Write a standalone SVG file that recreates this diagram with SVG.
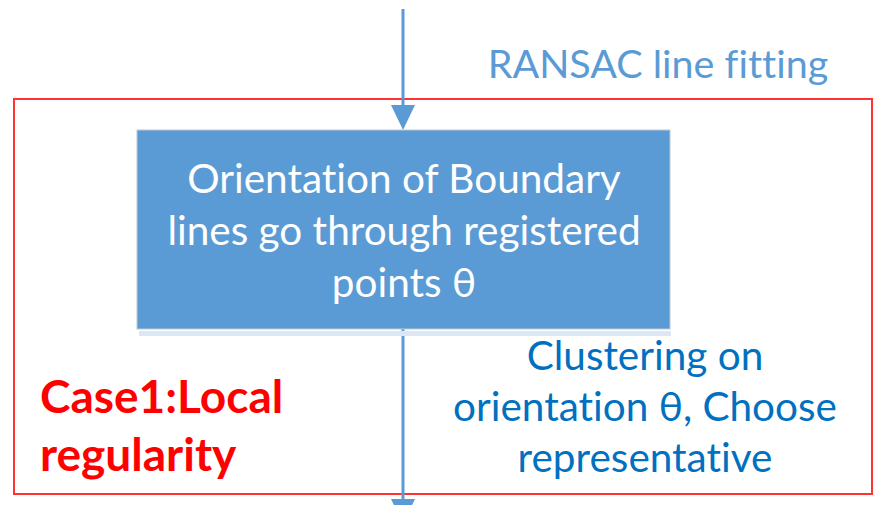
<svg xmlns="http://www.w3.org/2000/svg" width="877" height="505" viewBox="0 0 877 505">
<style>
.c{stroke:#5b9bd5;stroke-width:3;fill:none}
.t{font-family:Lato,"Open Sans","Liberation Sans",sans-serif;font-variant-ligatures:none}
.w{fill:#ffffff;font-size:40.5px}
.b{fill:#0070c0;font-size:40.5px}
.r{fill:#ff0000;font-size:46px;font-weight:bold}
</style>
<rect id="region" x="14" y="99" width="858" height="395" fill="none" stroke="#ff3333" stroke-width="2"/>
<g id="connectors">
<line class="c" x1="403" y1="9" x2="403" y2="108"/>
<path d="M391,105 L415,105 L403,130 Z" fill="#5b9bd5"/>
<line class="c" x1="403" y1="329" x2="403" y2="500"/>
<path d="M391,499 L415,499 L403,524 Z" fill="#5b9bd5"/>
</g>
<g id="node-orientation">
<rect x="139" y="331" width="532" height="5" fill="#dbe7f5"/>
<rect x="137" y="130" width="533" height="199" fill="#5b9bd5" stroke="#c0c8d0" stroke-width="1"/>
<text class="t w" x="404" y="193" text-anchor="middle">Orientation of Boundary</text>
<text class="t w" x="404" y="245" text-anchor="middle">lines go through registered</text>
<text class="t w" x="404" y="297" text-anchor="middle">points θ</text>
</g>
<g id="label-ransac">
<text class="t" x="658" y="78" text-anchor="middle" fill="#5b9bd5" font-size="39.5">RANSAC line fitting</text>
</g>
<g id="label-case">
<text class="t r" x="40" y="413">Case1:Local</text>
<text class="t r" x="40" y="471">regularity</text>
</g>
<g id="label-clustering">
<text class="t b" x="645" y="370" text-anchor="middle">Clustering on</text>
<text class="t b" x="645" y="421" text-anchor="middle">orientation θ, Choose</text>
<text class="t b" x="645" y="472" text-anchor="middle">representative</text>
</g>
</svg>
